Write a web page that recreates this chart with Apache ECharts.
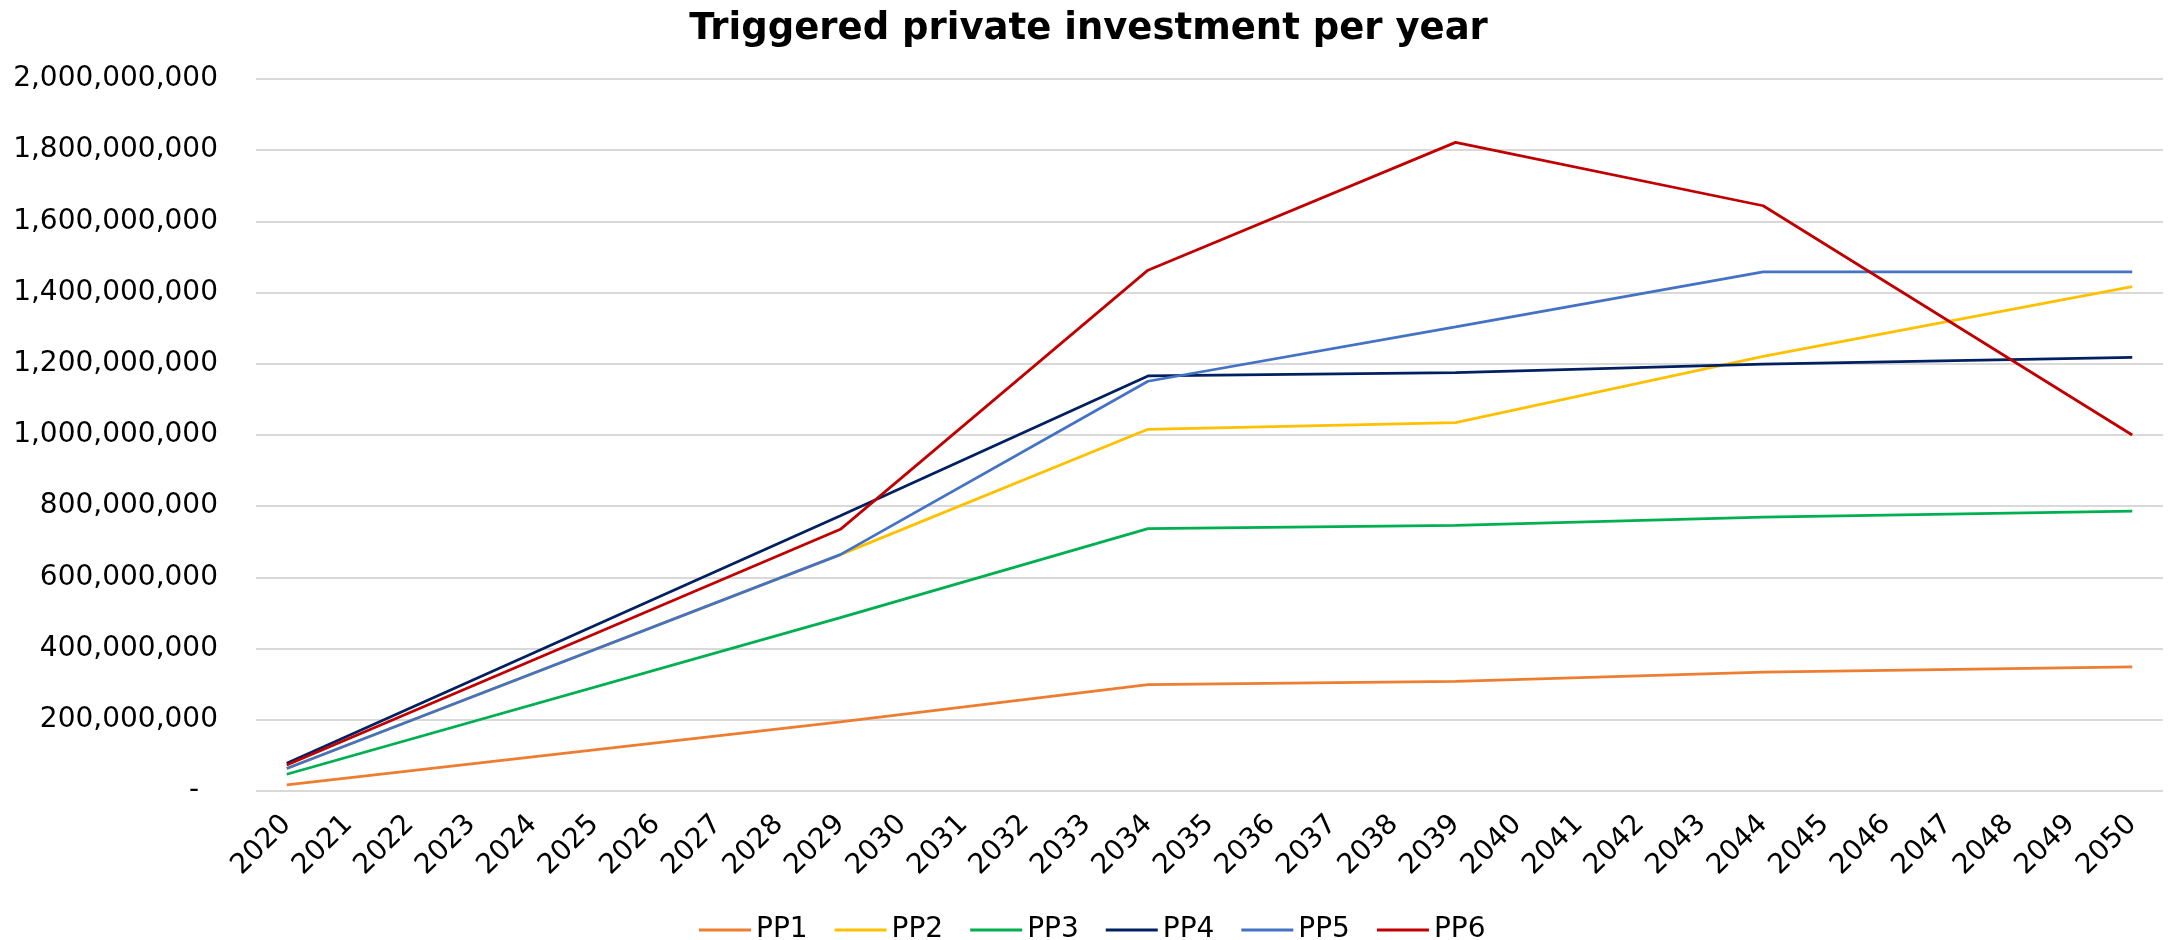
<!DOCTYPE html>
<html>
<head>
<meta charset="utf-8">
<script src="https://cdn.jsdelivr.net/npm/echarts@6/dist/echarts.min.js"></script>
<style>
  html, body { margin: 0; padding: 0; background: #fff; }
  #invest { width: 2177px; height: 940px; }
</style>
</head>
<body>
<div id="invest"></div>
<script>
  // years on the x axis
  var years = []
  for (var y = 2020; y <= 2050; y++) years.push(String(y))

  // values read at the years where the lines bend, null in between (lines are joined)
  var keyYears = ['2020', '2029', '2034', '2039', '2044', '2050']
  var pp1 = [17000000, 194000000, 299000000, 308000000, 334000000, 349000000]
  var pp2 = [63000000, 664000000, 1016000000, 1035000000, 1221000000, 1417000000]
  var pp3 = [47000000, 487000000, 737000000, 746000000, 769000000, 786000000]
  var pp4 = [78000000, 773000000, 1166000000, 1175000000, 1199000000, 1218000000]
  var pp5 = [63000000, 664000000, 1151000000, 1304000000, 1458000000, 1458000000]
  var pp6 = [73000000, 735000000, 1463000000, 1822000000, 1644000000, 1000000000]

  var seriesNames = ['PP1', 'PP2', 'PP3', 'PP4', 'PP5', 'PP6']
  var seriesValues = [pp1, pp2, pp3, pp4, pp5, pp6]
  var colors = ['#ED7D31', '#FFC000', '#00B050', '#002060', '#4472C4', '#C00000']

  function fullYears(vals) {
    return years.map(function (yr) {
      var i = keyYears.indexOf(yr)
      return i >= 0 ? vals[i] : null
    })
  }

  var font = 'DejaVu Sans'

  var option = {
    animation: false,
    color: colors,
    title: {
      text: 'Triggered private investment per year',
      left: 'center',
      top: 6,
      textStyle: {
        fontFamily: font,
        fontWeight: 'bold',
        fontSize: 37,
        color: '#000'
      }
    },
    legend: {
      data: seriesNames,
      left: 1093,
      top: 911,
      icon: 'rect',
      itemWidth: 52,
      itemHeight: 3,
      itemGap: 27,
      textStyle: {
        fontFamily: font,
        fontSize: 28,
        lineHeight: 28,
        color: '#000'
      }
    },
    grid: {
      left: 256,
      right: 14,
      top: 79,
      bottom: 149
    },
    xAxis: {
      type: 'category',
      data: years,
      boundaryGap: true,
      axisLine: { show: false },
      axisTick: { show: false },
      axisLabel: {
        interval: 0,
        rotate: 45,
        margin: 29,
        fontFamily: font,
        fontSize: 28,
        color: '#000'
      }
    },
    yAxis: {
      type: 'value',
      min: 0,
      max: 2000000000,
      interval: 200000000,
      axisLine: { show: false },
      axisTick: { show: false },
      splitLine: { lineStyle: { color: '#D9D9D9', width: 2 } },
      axisLabel: {
        margin: 38,
        fontFamily: font,
        fontSize: 28,
        color: '#000',
        formatter: function (v) {
          if (v === 0) return '{z|-}'
          return v.toLocaleString('en-US')
        },
        rich: {
          z: { fontFamily: font, fontSize: 28, color: '#000', padding: [0, 19, 0, 0] }
        }
      }
    },
    series: seriesNames.map(function (name, i) {
      return {
        name: name,
        type: 'line',
        data: fullYears(seriesValues[i]),
        connectNulls: true,
        symbol: 'none',
        lineStyle: { width: 2.75, color: colors[i] },
        itemStyle: { color: colors[i] }
      }
    })
  }

  var chart = echarts.init(document.getElementById('invest'))
  var opt = chart.getWidth ? option : option
  chart.setOption(opt)
  // centre the legend on the page using its measured width
  var lg = chart.getModel().getComponent('legend')
  var view = chart.getViewOfComponentModel(lg)
  var w = view.group.getBoundingRect().width
  chart.setOption({ legend: { left: Math.round(2177 / 2 - w / 2 + 4) } })
</script>
</body>
</html>
